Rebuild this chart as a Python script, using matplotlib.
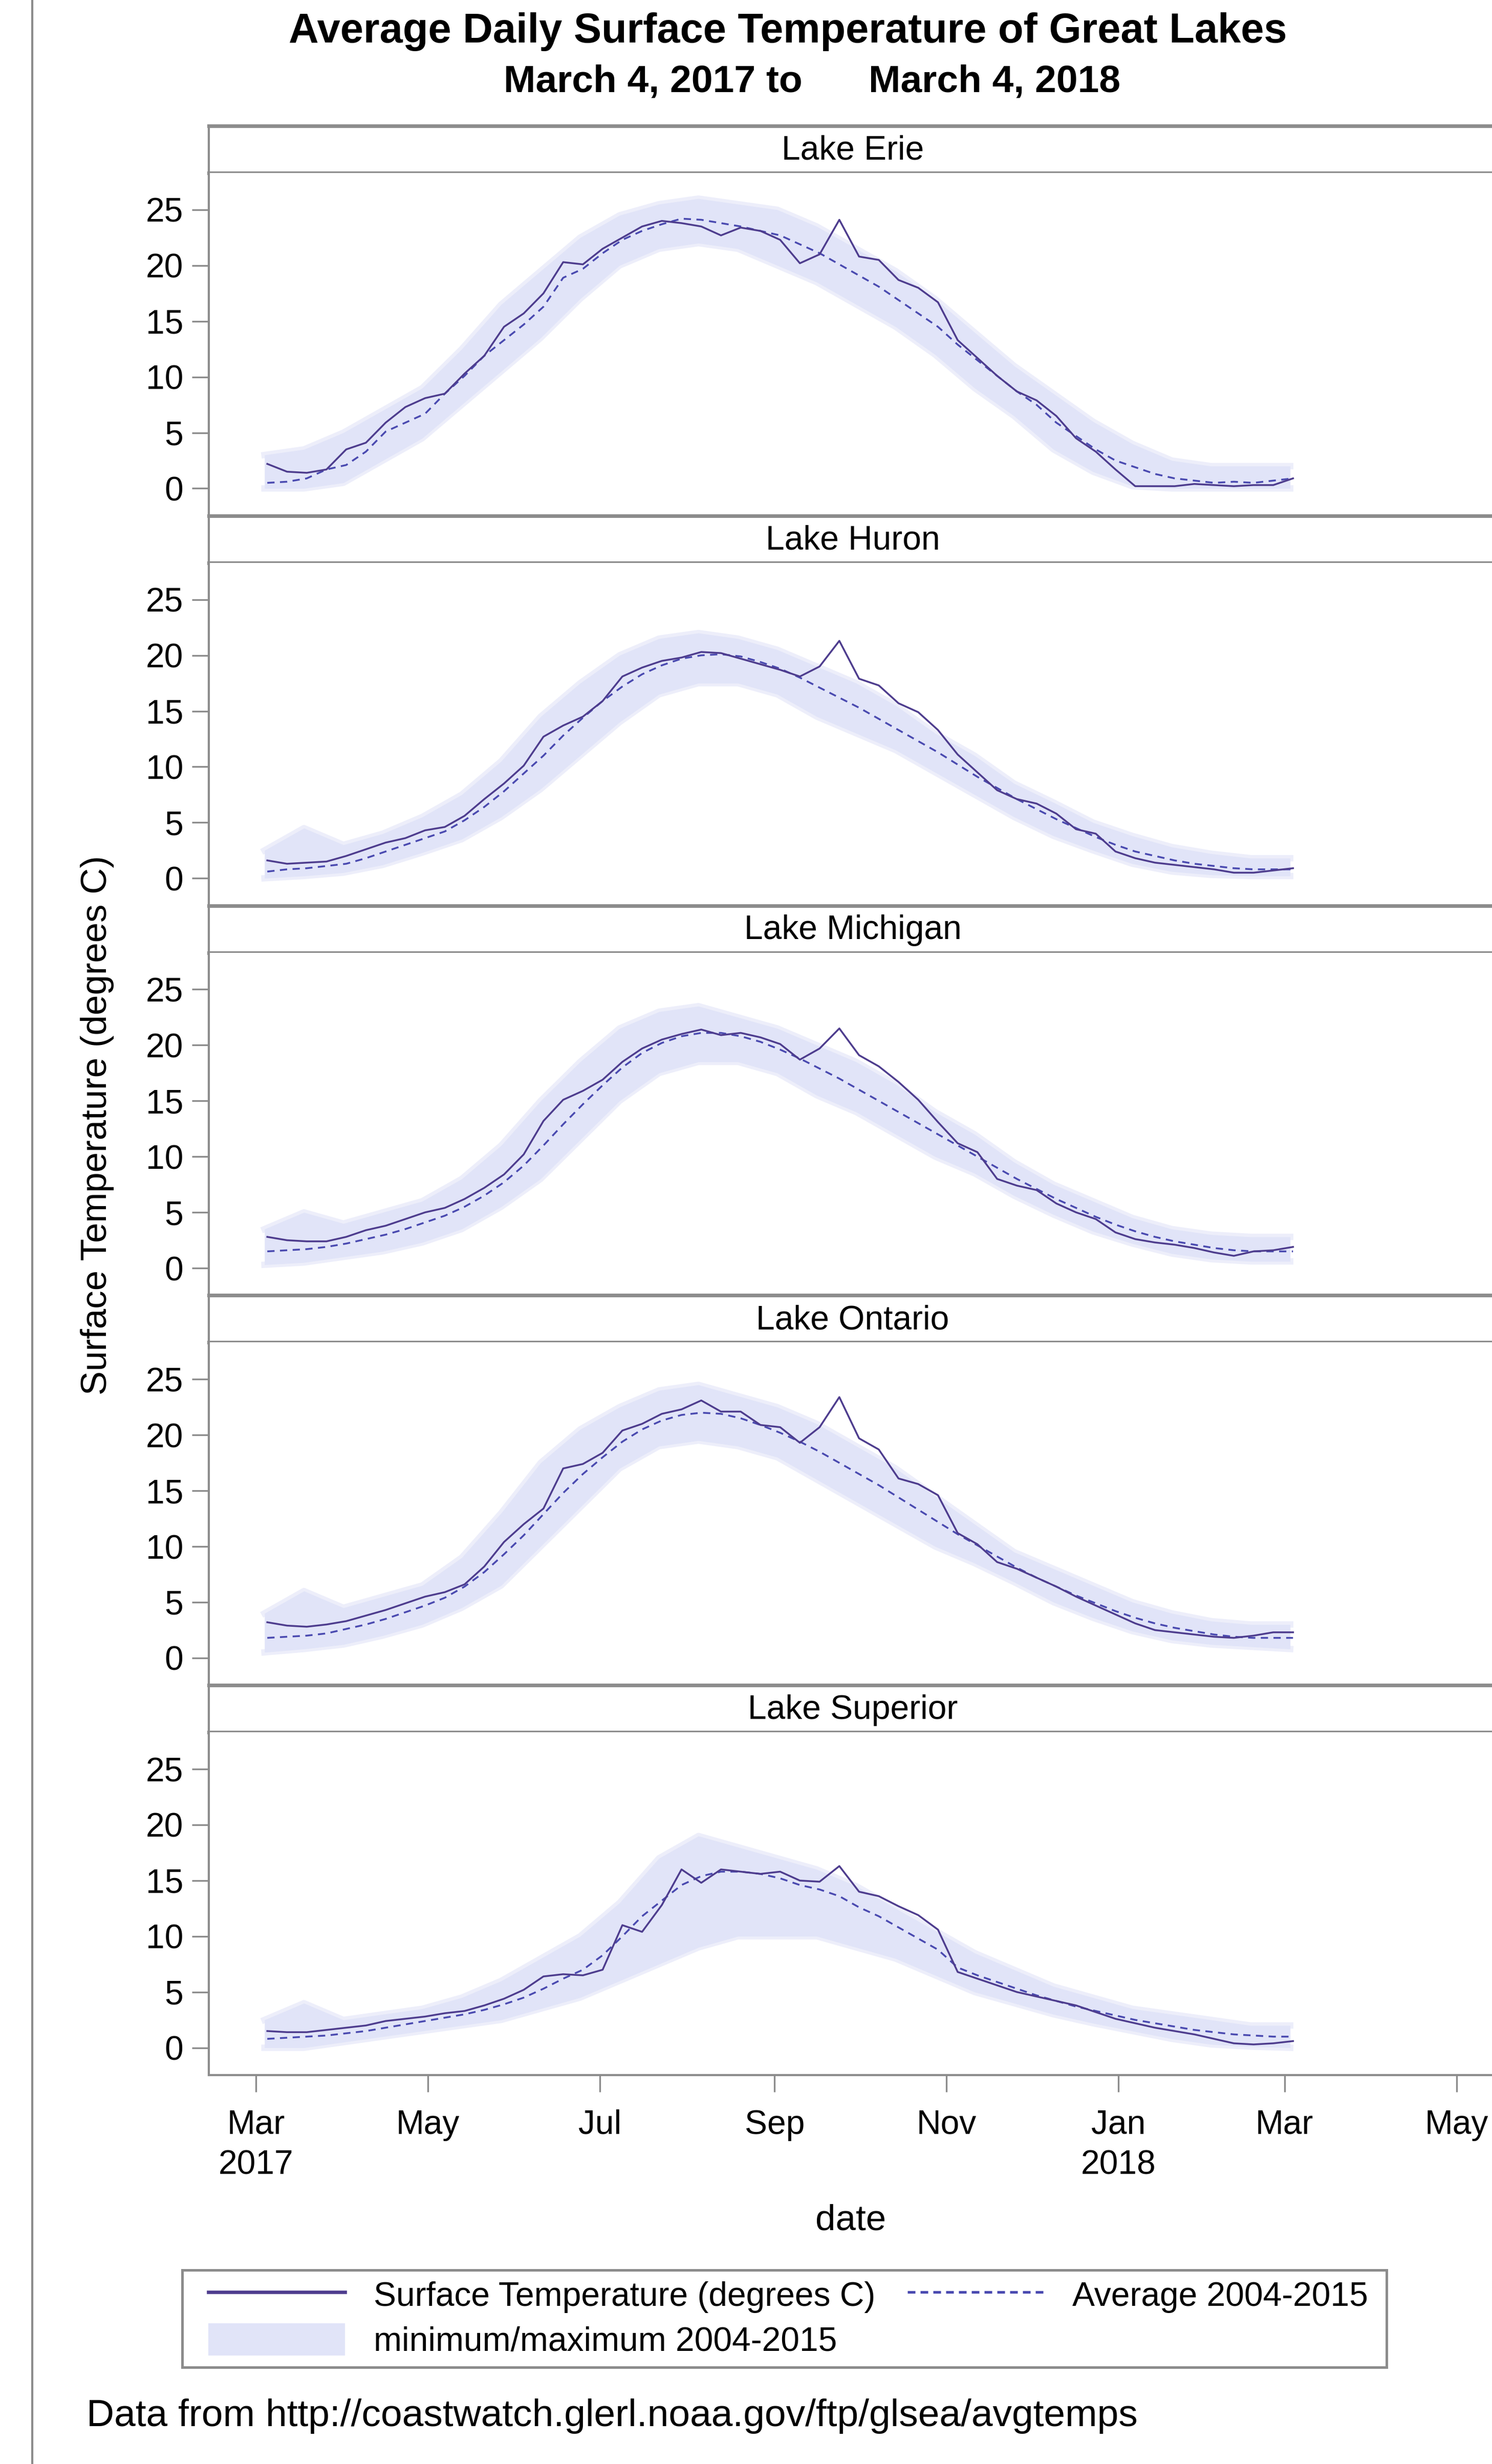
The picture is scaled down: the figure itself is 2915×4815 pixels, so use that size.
import pandas as pd
import numpy as np
import matplotlib.pyplot as plt
from matplotlib.lines import Line2D
from matplotlib.patches import Patch, Rectangle

plt.rcParams['font.family'] = ['Liberation Sans', 'DejaVu Sans']

lakes = ['Lake Erie', 'Lake Huron', 'Lake Michigan', 'Lake Ontario', 'Lake Superior']

# weekly sample dates for the daily series, two-weekly for the min/max band
week_dates = pd.date_range('2017-03-05', periods=53, freq='7D')
band_dates = pd.date_range('2017-03-04', periods=27, freq='14D')

erie_temp = [2.2, 1.5, 1.4, 1.7, 3.5, 4.1, 5.9, 7.3, 8.1, 8.5,
             10.3, 11.9, 14.5, 15.7, 17.5, 20.3, 20.1, 21.5, 22.5, 23.5,
             24.0, 23.8, 23.5, 22.7, 23.4, 23.1, 22.3, 20.2, 21.0, 24.1,
             20.8, 20.5, 18.7, 18.0, 16.7, 13.3, 11.7, 10.1, 8.7, 7.9,
             6.5, 4.5, 3.3, 1.7, 0.2, 0.2, 0.2, 0.4, 0.3, 0.2,
             0.3, 0.3, 0.9]
huron_temp = [1.6, 1.3, 1.4, 1.5, 2.0, 2.6, 3.2, 3.6, 4.3, 4.6,
              5.6, 7.1, 8.5, 10.1, 12.7, 13.7, 14.5, 15.9, 18.1, 18.9,
              19.5, 19.8, 20.3, 20.2, 19.7, 19.2, 18.7, 18.1, 19.0, 21.3,
              17.9, 17.3, 15.7, 14.9, 13.3, 11.1, 9.5, 7.9, 7.1, 6.7,
              5.8, 4.4, 4.0, 2.4, 1.8, 1.4, 1.2, 1.0, 0.8, 0.5,
              0.5, 0.7, 0.9]
michigan_temp = [2.8, 2.5, 2.4, 2.4, 2.8, 3.4, 3.8, 4.4, 5.0, 5.4,
                 6.2, 7.2, 8.4, 10.2, 13.2, 15.1, 15.9, 16.9, 18.5, 19.7,
                 20.5, 21.0, 21.4, 20.9, 21.1, 20.7, 20.1, 18.7, 19.7, 21.5,
                 19.1, 18.1, 16.7, 15.1, 13.1, 11.2, 10.4, 8.0, 7.4, 7.0,
                 5.8, 5.0, 4.4, 3.2, 2.6, 2.3, 2.1, 1.8, 1.4, 1.1,
                 1.5, 1.6, 1.9]
ontario_temp = [3.2, 2.9, 2.8, 3.0, 3.3, 3.8, 4.3, 4.9, 5.5, 5.9,
                6.6, 8.2, 10.4, 12.0, 13.4, 17.0, 17.4, 18.4, 20.4, 21.0,
                21.9, 22.3, 23.1, 22.1, 22.1, 20.9, 20.7, 19.3, 20.7, 23.4,
                19.7, 18.7, 16.1, 15.6, 14.6, 11.2, 10.2, 8.6, 8.0, 7.2,
                6.4, 5.5, 4.7, 3.9, 3.1, 2.5, 2.3, 2.1, 1.9, 1.8,
                2.0, 2.3, 2.3]
superior_temp = [1.5, 1.4, 1.4, 1.6, 1.8, 2.0, 2.4, 2.6, 2.8, 3.1,
                 3.3, 3.8, 4.4, 5.2, 6.4, 6.6, 6.5, 7.0, 11.0, 10.4,
                 12.8, 16.0, 14.8, 16.0, 15.8, 15.6, 15.8, 15.0, 14.9, 16.3,
                 14.0, 13.6, 12.7, 11.9, 10.6, 6.8, 6.2, 5.6, 5.0, 4.6,
                 4.2, 3.8, 3.2, 2.6, 2.2, 1.8, 1.5, 1.2, 0.8, 0.4,
                 0.3, 0.4, 0.6]

erie_avg = [0.5, 0.6, 0.9, 1.7, 2.1, 3.3, 5.1, 5.9, 6.7, 8.5,
            10.1, 11.9, 13.3, 14.7, 16.3, 18.9, 19.7, 21.1, 22.3, 23.1,
            23.7, 24.2, 24.1, 23.8, 23.5, 23.1, 22.7, 21.9, 21.1, 20.1,
            19.1, 18.1, 16.9, 15.7, 14.5, 12.9, 11.5, 10.1, 8.7, 7.5,
            5.9, 4.7, 3.5, 2.5, 1.9, 1.3, 0.9, 0.7, 0.5, 0.6,
            0.5, 0.7, 0.9]
huron_avg = [0.6, 0.8, 0.9, 1.1, 1.3, 1.8, 2.4, 3.0, 3.6, 4.2,
             5.2, 6.4, 7.8, 9.4, 11.0, 12.8, 14.4, 15.9, 17.2, 18.3,
             19.1, 19.7, 20.0, 20.1, 19.9, 19.4, 18.8, 18.0, 17.1, 16.2,
             15.3, 14.3, 13.3, 12.3, 11.3, 10.2, 9.1, 8.1, 7.1, 6.2,
             5.3, 4.5, 3.7, 3.0, 2.4, 2.0, 1.6, 1.3, 1.1, 0.9,
             0.8, 0.8, 0.8]
michigan_avg = [1.5, 1.6, 1.7, 1.9, 2.2, 2.6, 3.0, 3.5, 4.1, 4.7,
                5.5, 6.5, 7.7, 9.2, 11.0, 12.9, 14.7, 16.4, 18.0, 19.3,
                20.2, 20.8, 21.1, 21.1, 20.8, 20.3, 19.6, 18.8, 17.9, 17.0,
                16.0, 15.0, 14.0, 13.0, 12.0, 11.0, 10.0, 9.0, 8.0, 7.1,
                6.2, 5.4, 4.6, 3.9, 3.3, 2.8, 2.4, 2.1, 1.8, 1.6,
                1.5, 1.5, 1.5]
ontario_avg = [1.8, 1.9, 2.0, 2.2, 2.6, 3.0, 3.5, 4.1, 4.7, 5.4,
               6.4, 7.7, 9.3, 11.0, 12.9, 14.8, 16.5, 18.0, 19.4, 20.5,
               21.3, 21.8, 22.0, 21.9, 21.5, 20.9, 20.2, 19.4, 18.5, 17.5,
               16.5, 15.5, 14.4, 13.3, 12.2, 11.1, 10.1, 9.1, 8.1, 7.2,
               6.4, 5.6, 4.9, 4.2, 3.6, 3.1, 2.7, 2.4, 2.1, 1.9,
               1.8, 1.8, 1.8]
superior_avg = [0.8, 0.9, 1.0, 1.1, 1.3, 1.5, 1.8, 2.1, 2.4, 2.7,
                3.0, 3.4, 3.9, 4.5, 5.3, 6.2, 7.0, 8.3, 10.0, 11.8,
                13.2, 14.6, 15.4, 15.8, 15.8, 15.6, 15.2, 14.6, 14.2, 13.6,
                12.6, 11.8, 10.8, 9.8, 8.8, 7.2, 6.5, 5.9, 5.3, 4.7,
                4.2, 3.7, 3.3, 2.9, 2.5, 2.2, 1.9, 1.6, 1.4, 1.2,
                1.1, 1.0, 1.0]

erie_min = [0.0, 0.0, 0.5, 2.5, 4.5, 7.5, 10.5, 13.5, 17.0, 20.0,
            21.5, 22.0, 21.5, 20.0, 18.5, 16.5, 14.5, 12.0, 9.0, 6.5,
            3.5, 1.5, 0.2, 0.0, 0.0, 0.0, 0.0]
erie_max = [3.0, 3.5, 5.0, 7.0, 9.0, 12.5, 16.5, 19.5, 22.5, 24.5,
            25.5, 26.0, 25.5, 25.0, 23.5, 21.5, 19.5, 17.0, 14.0, 11.0,
            8.5, 6.0, 4.0, 2.5, 2.0, 2.0, 2.0]
huron_min = [0.0, 0.2, 0.5, 1.2, 2.3, 3.5, 5.5, 8.0, 11.0, 14.0,
             16.5, 17.5, 17.5, 16.5, 14.5, 13.0, 11.5, 9.5, 7.5, 5.5,
             3.8, 2.5, 1.3, 0.6, 0.3, 0.2, 0.2]
huron_max = [2.5, 4.5, 3.0, 4.0, 5.5, 7.5, 10.5, 14.5, 17.5, 20.0,
             21.5, 22.0, 21.5, 20.5, 19.0, 17.5, 15.5, 13.0, 11.0, 8.5,
             6.8, 5.0, 3.8, 2.8, 2.2, 1.8, 1.8]
michigan_min = [0.3, 0.5, 1.0, 1.5, 2.3, 3.5, 5.5, 8.0, 11.5, 15.0,
                17.5, 18.5, 18.5, 17.5, 15.5, 14.0, 12.0, 10.0, 8.5, 6.5,
                4.8, 3.3, 2.2, 1.3, 0.8, 0.6, 0.6]
michigan_max = [3.5, 5.0, 4.0, 5.0, 6.0, 8.0, 11.0, 15.0, 18.5, 21.5,
                23.0, 23.5, 22.5, 21.5, 20.0, 18.5, 16.5, 14.0, 12.0, 9.5,
                7.5, 6.0, 4.5, 3.5, 3.0, 2.8, 2.8]
ontario_min = [0.5, 0.8, 1.2, 2.0, 3.0, 4.5, 6.5, 10.0, 13.5, 17.0,
               19.0, 19.5, 19.0, 18.0, 16.0, 14.0, 12.0, 10.0, 8.5, 6.8,
               5.0, 3.6, 2.4, 1.6, 1.2, 1.0, 0.8]
ontario_max = [4.0, 6.0, 4.5, 5.5, 6.5, 9.0, 13.0, 17.5, 20.5, 22.5,
               24.0, 24.5, 23.5, 22.5, 21.0, 19.0, 17.0, 14.5, 12.0, 9.5,
               8.0, 6.5, 5.0, 4.0, 3.3, 3.0, 3.0]
superior_min = [0.0, 0.0, 0.5, 1.0, 1.5, 2.0, 2.5, 3.5, 4.5, 6.0,
                7.5, 9.0, 10.0, 10.0, 10.0, 9.0, 8.0, 6.5, 5.0, 4.0,
                3.0, 2.2, 1.5, 0.8, 0.3, 0.1, 0.0]
superior_max = [2.5, 4.0, 2.5, 3.0, 3.5, 4.5, 6.0, 8.0, 10.0, 13.0,
                17.0, 19.0, 18.0, 17.0, 16.0, 14.5, 12.5, 10.5, 8.5, 7.0,
                5.5, 4.5, 3.5, 3.0, 2.5, 2.0, 2.0]

tick_dates = ['2017-03-01', '2017-05-01', '2017-07-01', '2017-09-01',
              '2017-11-01', '2018-01-01', '2018-03-01', '2018-05-01']
tick_labels = ['Mar\n2017', 'May', 'Jul', 'Sep', 'Nov', 'Jan\n2018', 'Mar', 'May']
y_ticks = [0, 5, 10, 15, 20, 25]

series = {
    'Lake Erie': (erie_temp, erie_avg, erie_min, erie_max),
    'Lake Huron': (huron_temp, huron_avg, huron_min, huron_max),
    'Lake Michigan': (michigan_temp, michigan_avg, michigan_min, michigan_max),
    'Lake Ontario': (ontario_temp, ontario_avg, ontario_min, ontario_max),
    'Lake Superior': (superior_temp, superior_avg, superior_min, superior_max),
}

temp_color = '#4e3d8e'
avg_color = '#4a4ab0'
band_color = '#e1e4f8'
frame_color = '#8c8c8c'
fs = 15.8

W, H = 2915, 4815
fig = plt.figure(figsize=(W / 300, H / 300), dpi=300)


def fx(px):
    return px / W


def fy(py):
    return 1 - py / H


left_px, width_px = 408, 2516
top0, period, header_h = 246, 761.8, 92
plot_h = period - header_h

x_left = pd.Timestamp('2017-02-12 06:00')
x_right = pd.Timestamp('2018-05-15 06:00')

for i, lake in enumerate(lakes):
    temp, avg, lo, hi = series[lake]
    top = top0 + i * period

    hax = fig.add_axes([fx(left_px), fy(top + header_h), width_px / W, header_h / H])
    hax.set_xticks([])
    hax.set_yticks([])
    for side in ['top', 'bottom']:
        hax.spines[side].set_color(frame_color)
        hax.spines[side].set_linewidth(1.7)
    hax.spines['left'].set_color(frame_color)
    hax.spines['left'].set_linewidth(1.0)
    hax.spines['right'].set_visible(False)
    hax.text(0.5, 0.47, lake, ha='center', va='center', fontsize=fs,
             transform=hax.transAxes)

    ax = fig.add_axes([fx(left_px), fy(top + period), width_px / W, plot_h / H])
    ax.fill_between(band_dates, lo, hi, color=band_color, lw=0, zorder=1)
    ax.plot(band_dates, lo, color=band_color, lw=3, alpha=0.6, zorder=1)
    ax.plot(band_dates, hi, color=band_color, lw=3, alpha=0.6, zorder=1)
    ax.plot(week_dates, avg, color=avg_color, lw=0.85, ls=(0, (4, 3)), zorder=2)
    ax.plot(week_dates, temp, color=temp_color, lw=0.85, zorder=3)

    ax.set_xlim(x_left, x_right)
    ax.set_ylim(-2.45, 28.3)
    ax.set_yticks(y_ticks)
    ax.tick_params(axis='y', length=8, width=0.8, color=frame_color,
                   labelsize=fs, pad=4)
    for side in ['top', 'right']:
        ax.spines[side].set_visible(False)
    ax.spines['left'].set_color(frame_color)
    ax.spines['left'].set_linewidth(1.0)
    ax.spines['bottom'].set_color(frame_color)
    ax.spines['bottom'].set_linewidth(1.0)

    ax.set_xticks(pd.to_datetime(tick_dates))
    if i == len(lakes) - 1:
        ax.set_xticklabels(tick_labels, linespacing=1.35)
        ax.tick_params(axis='x', length=8, width=0.8, color=frame_color,
                       labelsize=fs, pad=8)
    else:
        ax.tick_params(axis='x', length=0, labelbottom=False)

fig.text(fx(1539), fy(62), 'Average Daily Surface Temperature of Great Lakes',
         ha='center', va='center', fontsize=19.5, fontweight='bold')
fig.text(fx(1568), fy(160), 'March 4, 2017 to', ha='right', va='center',
         fontsize=18, fontweight='bold')
fig.text(fx(1697), fy(160), 'March 4, 2018', ha='left', va='center',
         fontsize=18, fontweight='bold')

fig.text(fx(190), fy(2199), 'Surface Temperature (degrees C)', rotation=90,
         ha='center', va='center', fontsize=17)
fig.text(fx(1662), fy(4340), 'date', ha='center', va='center', fontsize=17)

# legend: frame drawn as a rectangle, entries placed inside it
fig.add_artist(Rectangle((fx(356), fy(4626)), (2709 - 356) / W, 190 / H,
                         transform=fig.transFigure, facecolor='white',
                         edgecolor=frame_color, lw=1.2))
handles = [Line2D([], [], color=temp_color, lw=1.6),
           Patch(facecolor=band_color, edgecolor='none'),
           Line2D([], [], color=avg_color, lw=1.2, ls=(0, (3, 2)))]
labels = ['Surface Temperature (degrees C)', 'minimum/maximum 2004-2015',
          'Average 2004-2015']
leg = fig.legend(handles, labels, loc='center', bbox_to_anchor=(fx(1540), fy(4530)),
                 ncol=2, fontsize=fs, frameon=False,
                 handlelength=4.05, handletextpad=0.85,
                 columnspacing=0.95, borderpad=0.3, labelspacing=0.3,
                 handleheight=1.1)

fig.text(fx(169), fy(4721),
         'Data from http://coastwatch.glerl.noaa.gov/ftp/glsea/avgtemps',
         ha='left', va='center', fontsize=18)

fig.add_artist(Line2D([fx(63), fx(63)], [0, 1], color=frame_color, lw=1.0))

fig.savefig('out.png', dpi=300, facecolor='white')
